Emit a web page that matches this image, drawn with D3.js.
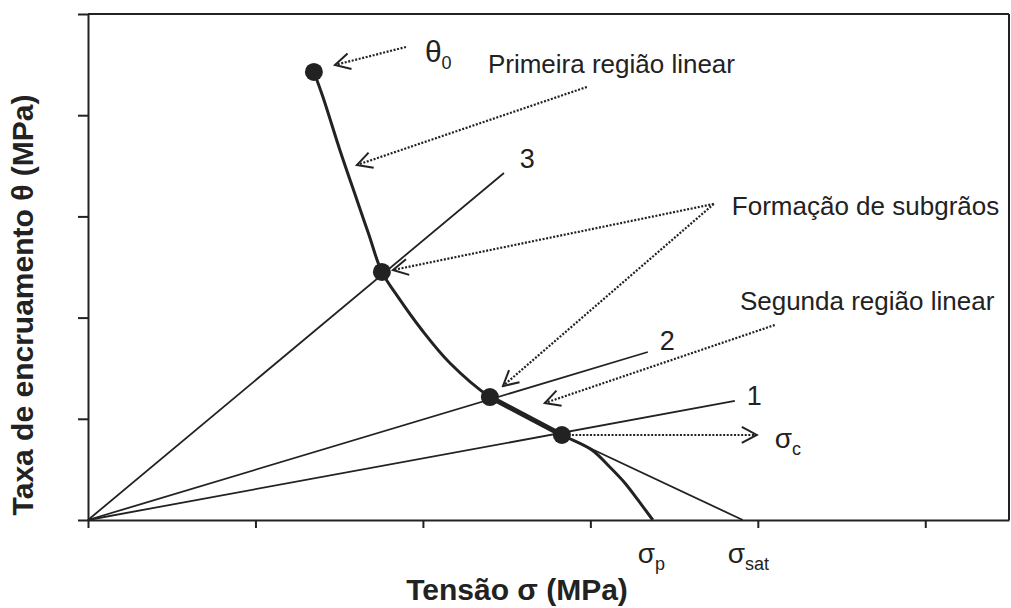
<!DOCTYPE html>
<html>
<head>
<meta charset="utf-8">
<script src="https://cdn.jsdelivr.net/npm/d3@7"></script>
<style>
  body { margin: 0; background: #fff; }
  text { font-family: "Liberation Sans", Arial, sans-serif; fill: #222; }
</style>
</head>
<body>
<svg id="chart" width="1011" height="608"></svg>
<script>
// unlabeled tick positions
const xTicks = [0, 1, 2, 3, 4, 5];
const yTicks = [0, 1, 2, 3, 4, 5];

// hardening rate curve theta vs sigma
const curveStress = [1.349, 1.403, 1.504, 1.606, 1.678, 1.755, 1.851, 1.994, 2.161, 2.400, 2.615, 2.830, 3.009, 3.116, 3.206, 3.284, 3.373];
const curveRate   = [4.427, 4.180, 3.656, 3.162, 2.816, 2.451, 2.204, 1.877, 1.551, 1.215, 1.028, 0.840, 0.692, 0.524, 0.366, 0.198, 0];

// straight lines from origin (1, 2, 3)
const rayNames  = ['1', '2', '3'];
const rayStress = [3.863, 3.343, 2.484];
const rayRate   = [1.176, 1.660, 3.429];

// marked points: theta0, line 3, line 2, sigma_c
const keyStress = [1.349, 1.755, 2.400, 2.830];
const keyRate   = [4.427, 2.451, 1.215, 0.840];

const sigmaC = 2.830, thetaC = 0.840;
const sigmaP = 3.373;
const sigmaSat = 3.910;

// annotation arrows [fromX, fromY, toX, toY]
const arrows = [
  [1.899, 4.674, 1.475, 4.496],
  [2.979, 4.279, 1.606, 3.508],
  [3.737, 3.123, 1.821, 2.470],
  [3.737, 3.123, 2.478, 1.324],
  [4.101, 1.927, 2.728, 1.156],
  [2.890, 0.840, 3.994, 0.840]
];

const notes = ['Primeira região linear', 'Formação de subgrãos', 'Segunda região linear'];
const noteX = [2.388, 3.845, 3.893];
const noteY = [4.417, 3.014, 2.075];

const svg = d3.select('#chart');
const ink = '#222';

const x = d3.scaleLinear().domain([0, 5.5]).range([88, 1009]);
const y = d3.scaleLinear().domain([0, 5]).range([520, 14]);

// frame: top and right
svg.append('line').attr('x1', x(0)).attr('x2', x(5.5)).attr('y1', y(5)).attr('y2', y(5))
  .attr('stroke', ink).attr('stroke-width', 2);
svg.append('line').attr('x1', x(5.5)).attr('x2', x(5.5)).attr('y1', y(5)).attr('y2', y(0))
  .attr('stroke', ink).attr('stroke-width', 2);

// axes
const gx = svg.append('g').attr('transform', 'translate(0,' + y(0) + ')')
  .call(d3.axisBottom(x).tickValues(xTicks).tickSize(8).tickSizeOuter(0).tickFormat(''));
const gy = svg.append('g').attr('transform', 'translate(' + x(0) + ',0)')
  .call(d3.axisLeft(y).tickValues(yTicks).tickSize(10).tickSizeOuter(0).tickFormat(''));
[gx, gy].forEach(g => {
  g.select('.domain').attr('stroke', ink).attr('stroke-width', 2);
  g.selectAll('.tick line').attr('stroke', ink).attr('stroke-width', 2);
});

// rays from origin
svg.selectAll('.ray').data(rayNames).enter().append('line')
  .attr('x1', x(0)).attr('y1', y(0))
  .attr('x2', (d, i) => x(rayStress[i])).attr('y2', (d, i) => y(rayRate[i]))
  .attr('stroke', ink).attr('stroke-width', 1.8);

// saturation line
svg.append('line').attr('x1', x(sigmaC)).attr('y1', y(thetaC))
  .attr('x2', x(sigmaSat)).attr('y2', y(0))
  .attr('stroke', ink).attr('stroke-width', 1.8);

// curve
const pts = curveStress.map((s, i) => [s, curveRate[i]]);
const line = d3.line().x(d => x(d[0])).y(d => y(d[1])).curve(d3.curveCatmullRom.alpha(0.5));
svg.append('path').attr('d', line(pts)).attr('fill', 'none')
  .attr('stroke', ink).attr('stroke-width', 3);
// thicker part between point 2 and sigma_c
svg.append('path').attr('d', line(pts.slice(9, 12))).attr('fill', 'none')
  .attr('stroke', ink).attr('stroke-width', 5);

// key points
svg.selectAll('.dot').data(keyStress).enter().append('circle')
  .attr('cx', d => x(d)).attr('cy', (d, i) => y(keyRate[i])).attr('r', 9).attr('fill', ink);

// arrow heads
svg.append('defs').append('marker')
  .attr('id', 'open').attr('viewBox', '-17 -10 19 20')
  .attr('refX', 0).attr('refY', 0)
  .attr('markerWidth', 19).attr('markerHeight', 20)
  .attr('markerUnits', 'userSpaceOnUse').attr('orient', 'auto')
  .append('path').attr('d', 'M-15,-8L0,0L-15,8')
  .attr('fill', 'none').attr('stroke', ink).attr('stroke-width', 2);

svg.selectAll('.arrow').data(arrows).enter().append('line')
  .attr('x1', d => x(d[0])).attr('y1', d => y(d[1]))
  .attr('x2', d => x(d[2])).attr('y2', d => y(d[3]))
  .attr('stroke', ink).attr('stroke-width', 2.2).attr('stroke-dasharray', '2,1.6')
  .attr('marker-end', 'url(#open)');

// notes
svg.selectAll('.note').data(notes).enter().append('text')
  .attr('x', (d, i) => x(noteX[i])).attr('y', (d, i) => y(noteY[i]))
  .style('font-size', '26px').text(d => d);

// ray labels
const rayLabelX = [3.934, 3.415, 2.579];
const rayLabelY = [1.136, 1.680, 3.478];
svg.selectAll('.rl').data(rayNames).enter().append('text')
  .attr('x', (d, i) => x(rayLabelX[i])).attr('y', (d, i) => y(rayLabelY[i]))
  .style('font-size', '27px').text(d => d);

// greek labels with subscripts
function sub(px, py, main, low, size) {
  const t = svg.append('text').attr('x', px).attr('y', py).style('font-size', size + 'px');
  t.append('tspan').text(main);
  t.append('tspan').attr('dy', 7).style('font-size', '18px').text(low);
}
sub(x(2.012), y(4.526), 'θ', '0', 30);
sub(x(4.101), y(0.711), 'σ', 'c', 28);
sub(x(sigmaP) - 15, y(-0.425), 'σ', 'p', 28);
sub(x(sigmaSat) - 15, y(-0.425), 'σ', 'sat', 28);

// axis titles
svg.append('text').attr('x', 517).attr('y', 600).attr('text-anchor', 'middle')
  .style('font-size', '30px').style('font-weight', 'bold').text('Tensão σ (MPa)');
svg.append('text').attr('transform', 'translate(33,' + 305 + ') rotate(-90)')
  .attr('text-anchor', 'middle')
  .style('font-size', '30px').style('font-weight', 'bold').text('Taxa de encruamento θ (MPa)');
</script>
</body>
</html>
